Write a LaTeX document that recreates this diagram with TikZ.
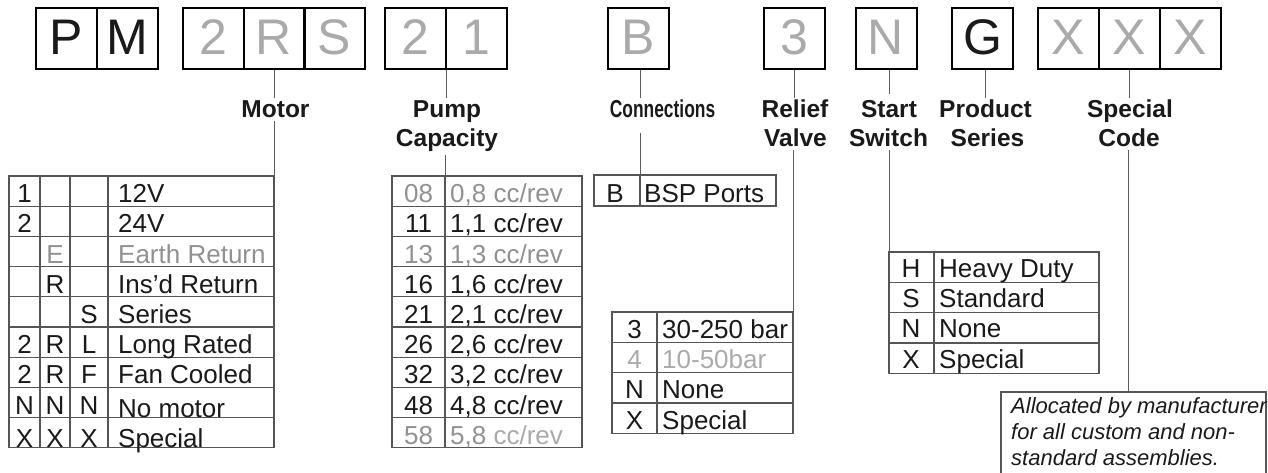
\documentclass[tikz,border=0pt]{standalone}
\usepackage{fontspec}
\setmainfont{Liberation Sans}
\definecolor{ink}{HTML}{1A1A1A}
\definecolor{lgray}{HTML}{AAAAAA}
\definecolor{mgray}{HTML}{919191}
\definecolor{tgray}{HTML}{555555}
\definecolor{cgray}{HTML}{5E5E5E}
\begin{document}
\begin{tikzpicture}[x=1pt,y=-1pt,
  topbox/.style={draw=black, line width=2pt, minimum width=61pt, minimum height=61pt, inner sep=0pt, text height=33pt, text depth=0pt, text=ink, font=\fontsize{50}{50}\selectfont},
  gbox/.style={topbox, text=lgray},
  lbl/.style={font=\bfseries\fontsize{24.5}{29}\selectfont, text=ink, inner xsep=0pt, inner ysep=2.5pt, anchor=base},
  tab/.style={draw=tgray, line width=1.3pt},
  cell/.style={font=\fontsize{26}{30}\selectfont, text=ink, inner sep=0pt, anchor=base},
  cellw/.style={cell, anchor=base west},
  conn/.style={draw=cgray, line width=1pt},
  note/.style={font=\itshape\fontsize{22}{26}\selectfont, text=ink, inner sep=0pt, anchor=base west}
]
\useasboundingbox (0,0) rectangle (1268,473);
\fill[white] (0,0) rectangle (1268,473);

% ---------- top code boxes ----------
\node[topbox] (bP)  at (66.5,38.5) {P};
\node[topbox] (bM)  at (127.5,38.5) {M};
\node[gbox]   (bM2) at (213,38.5) {2};
\node[gbox]   (bMR) at (274,38.5) {R};
\node[gbox]   (bMS) at (334.5,38.5) {S};
\node[gbox]   (bP2) at (415,38.5) {2};
\node[gbox]   (bP1) at (476,38.5) {1};
\node[gbox]   (bB)  at (638,38.5) {B};
\node[gbox]   (b3)  at (794,38.5) {3};
\node[gbox]   (bN)  at (886,38.5) {N};
\node[topbox] (bG)  at (982.5,38.5) {G};
\node[gbox]   (bX1) at (1068.5,38.5) {X};
\node[gbox]   (bX2) at (1129.5,38.5) {X};
\node[gbox]   (bX3) at (1190,38.5) {X};

% ---------- labels ----------
\node[lbl] (lMotor) at (275.5,118) {Motor};
\node[lbl] (lPump)  at (447,118) {Pump};
\node[lbl] (lCap)   at (447,147) {Capacity};
\node[lbl] (lConn)  at (662.5,118) {\scalebox{0.71}[1]{Connections}};
\node[lbl] (lRel)   at (795,118) {Relief};
\node[lbl] (lValve) at (795.5,147) {Valve};
\node[lbl] (lStart) at (889,118) {Start};
\node[lbl] (lSw)    at (888.5,147) {Switch};
\node[lbl] (lProd)  at (985.5,118) {Product};
\node[lbl] (lSer)   at (987.5,147) {Series};
\node[lbl] (lSpec)  at (1130,118) {Special};
\node[lbl] (lCode)  at (1129,147) {Code};

% ---------- table anchor points ----------
\coordinate (mtab) at (274,176);
\coordinate (ptab) at (445,176);
\coordinate (ctab) at (640,175);
\coordinate (rtab) at (793,312);
\coordinate (stab) at (889,252);
\coordinate (xtab) at (1128,392);

% ---------- connectors ----------
\draw[conn] (bMR.south) -- (bMR.south |- lMotor.north);
\draw[conn] (lMotor.south -| mtab) -- (mtab);
\draw[conn] (bP2.south east) -- (bP2.south east |- lPump.north);
\draw[conn] (lCap.south -| ptab) -- (ptab);
\draw[conn] ([xshift=2pt]bB.south) -- ([xshift=2pt]bB.south |- lConn.north);
\draw[conn, shorten <=12pt] (lConn.south -| ctab) -- (ctab);
\draw[conn] (b3.south) -- (b3.south |- lRel.north);
\draw[conn] (lValve.south -| rtab) -- (rtab);
\draw[conn] ([xshift=3pt]bN.south) -- ([xshift=3pt,yshift=4pt]bN.south |- lStart.north);
\draw[conn] (lSw.south -| stab) -- (stab);
\draw[conn] ([xshift=3pt]bG.south) -- ([xshift=3pt]bG.south |- lProd.north);
\draw[conn] (bX2.south) -- (bX2.south |- lSpec.north);
\draw[conn] (lCode.south -| xtab) -- (xtab);

% ---------- motor table ----------
\draw[tab] (9,176) rectangle (274,447.8);
\foreach \r in {1,...,8} \draw[tab] (9,{176+\r*30.2}) -- (274,{176+\r*30.2});
\foreach \xx in {40,70,108} \draw[tab] (\xx,176) -- (\xx,447.8);
\node[cell] (mA1) at (24.5,202.7) {1};
\node[cell] (mA2) at (24.5,232.9) {2};
\node[cell] (mA6) at (24.5,353.7) {2};
\node[cell] (mA7) at (24.5,383.9) {2};
\node[cell] (mA8) at (24.5,414.1) {N};
\node[cell] (mA9) at (24.5,447.0) {X};
\node[cell, text=mgray] (mB3) at (55,263.1) {E};
\node[cell] (mB4) at (55,293.3) {R};
\node[cell] (mB6) at (55,353.7) {R};
\node[cell] (mB7) at (55,383.9) {R};
\node[cell] (mB8) at (55,414.1) {N};
\node[cell] (mB9) at (55,447.0) {X};
\node[cell] (mC5) at (89,323.5) {S};
\node[cell] (mC6) at (89,353.7) {L};
\node[cell] (mC7) at (89,383.9) {F};
\node[cell] (mC8) at (89,414.1) {N};
\node[cell] (mC9) at (89,447.0) {X};
\node[cellw] (mT1) at (118,202.7) {12V};
\node[cellw] (mT2) at (118,232.9) {24V};
\node[cellw, text=mgray] (mT3) at (118,263.1) {Earth Return};
\node[cellw] (mT4) at (118,293.3) {Ins’d Return};
\node[cellw] (mT5) at (118,323.5) {Series};
\node[cellw] (mT6) at (118,353.7) {Long Rated};
\node[cellw] (mT7) at (118,383.9) {Fan Cooled};
\node[cellw] (mT8) at (118,417.1) {No motor};
\node[cellw] (mT9) at (118,447.0) {Special};

% ---------- pump table ----------
\draw[tab] (392,176) rectangle (582,447.8);
\foreach \r in {1,...,8} \draw[tab] (392,{176+\r*30.2}) -- (582,{176+\r*30.2});
\draw[tab] (445,176) -- (445,447.8);
\node[cell, text=mgray] (pN1) at (418.5,202.7) {08};
\node[cell] (pN2) at (418.5,232.9) {11};
\node[cell, text=mgray] (pN3) at (418.5,263.1) {13};
\node[cell] (pN4) at (418.5,293.3) {16};
\node[cell] (pN5) at (418.5,323.5) {21};
\node[cell] (pN6) at (418.5,353.7) {26};
\node[cell] (pN7) at (418.5,383.9) {32};
\node[cell] (pN8) at (418.5,414.1) {48};
\node[cell, text=mgray] (pN9) at (418.5,444.8) {58};
\node[cellw, text=mgray] (pT1) at (450,202.7) {0,8 cc/rev};
\node[cellw] (pT2) at (450,232.9) {1,1 cc/rev};
\node[cellw, text=mgray] (pT3) at (450,263.1) {1,3 cc/rev};
\node[cellw] (pT4) at (450,293.3) {1,6 cc/rev};
\node[cellw] (pT5) at (450,323.5) {2,1 cc/rev};
\node[cellw] (pT6) at (450,353.7) {2,6 cc/rev};
\node[cellw] (pT7) at (450,383.9) {3,2 cc/rev};
\node[cellw] (pT8) at (450,414.1) {4,8 cc/rev};
\node[cellw, text=mgray] (pT9) at (450,444.8) {5,8 \textcolor{lgray}{cc/rev}};

% ---------- connections table ----------
\draw[tab] (594,175) rectangle (776,206);
\draw[tab] (ctab) -- (640,206);
\node[cell] (cN1) at (615,202.5) {B};
\node[cellw] (cT1) at (644,202.5) {BSP Ports};

% ---------- relief valve table ----------
\draw[tab] (612,312) rectangle (793,433.2);
\foreach \r in {1,2,3} \draw[tab] (612,{312+\r*30.3}) -- (793,{312+\r*30.3});
\draw[tab] (657,312) -- (657,433.2);
\node[cell] (rN1) at (634.5,338.3) {3};
\node[cell, text=lgray] (rN2) at (634.5,368.6) {4};
\node[cell] (rN3) at (634.5,398.9) {N};
\node[cell] (rN4) at (634.5,429.2) {X};
\node[cellw] (rT1) at (662,338.3) {30-250 bar};
\node[cellw, text=lgray] (rT2) at (662,368.6) {10-50bar};
\node[cellw] (rT3) at (662,398.9) {None};
\node[cellw] (rT4) at (662,429.2) {Special};

% ---------- start switch table ----------
\draw[tab] (889,252) rectangle (1099,373.2);
\foreach \r in {1,2,3} \draw[tab] (889,{252+\r*30.3}) -- (1099,{252+\r*30.3});
\draw[tab] (934,252) -- (934,373.2);
\node[cell] (sN1) at (911,277.3) {H};
\node[cell] (sN2) at (911,307.6) {S};
\node[cell] (sN3) at (911,337.9) {N};
\node[cell] (sN4) at (911,368.2) {X};
\node[cellw] (sT1) at (939,277.3) {Heavy Duty};
\node[cellw] (sT2) at (939,307.6) {Standard};
\node[cellw] (sT3) at (939,337.9) {None};
\node[cellw] (sT4) at (939,368.2) {Special};

% ---------- special code note ----------
\draw[tab] (1001,480) -- (1001,392) -- (1266,392) -- (1266,480);
\node[note] (nt1) at (1011,413) {Allocated by manufacturer};
\node[note] (nt2) at (1011,439) {for all custom and non-};
\node[note] (nt3) at (1011,465) {standard assemblies.};
\end{tikzpicture}
\end{document}
